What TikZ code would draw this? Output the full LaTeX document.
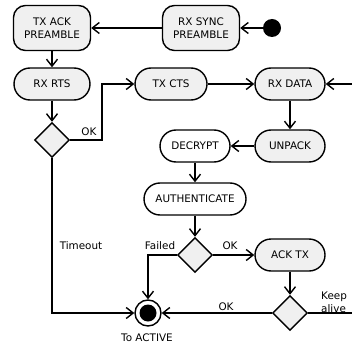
\documentclass[tikz,border=0pt]{standalone}
\usepackage{fontspec}
\setmainfont{DejaVu Sans}
\usetikzlibrary{shapes.geometric, arrows.meta, positioning}

\begin{document}
\begin{tikzpicture}[
    x=1pt, y=-1pt,
    font=\fontsize{10.4}{12.8}\selectfont,
    state/.style={rectangle, draw, fill=gray!12, line width=1.4pt, minimum width=70pt, minimum height=32pt, align=center, rounded corners=16pt},
    twoline/.style={state, minimum width=77pt, minimum height=45pt, rounded corners=12pt},
    plainstate/.style={state, fill=white},
    choice/.style={diamond, draw, fill=gray!12, line width=1.4pt, minimum width=35pt, minimum height=35pt, inner sep=0pt},
    arrow/.style={-{Straight Barb[length=7pt,width=11pt]}, line width=1.4pt}
]
\useasboundingbox (0,0) rectangle (352,347);
\clip (0,0) rectangle (352,347);
\node (txack) [twoline] at (52,28) {TX ACK\\PREAMBLE};
\node (rxsync) [twoline] at (201,28) {RX SYNC\\PREAMBLE};
\node (start) [circle, fill, minimum size=18pt, inner sep=0pt] at (272,28) {};
\node (rxrts) [state, minimum width=76pt] at (52,84) {RX RTS};
\node (txcts) [state, minimum width=72pt] at (171,84) {TX CTS};
\node (rxdata) [state] at (290,84) {RX DATA};
\node (rtsok) [choice] at (52,140) {};
\node (unpack) [state] at (290,146) {UNPACK};
\node (decrypt) [plainstate] at (195,146) {DECRYPT};
\node (auth) [plainstate, minimum width=102pt] at (195,199) {AUTHENTICATE};
\node (authok) [choice] at (195,255) {};
\node (acktx) [state] at (290,255) {ACK TX};
\node (keep) [choice] at (290,313) {};
\node (end) [circle, draw, line width=1.4pt, minimum size=26pt, inner sep=0pt] at (148,313) {};
\node (endin) [circle, fill, minimum size=17pt, inner sep=0pt] at (end) {};
\coordinate (ctsbend) at (102,84);
\coordinate (loop) at (370,313);
% labels
\node (rtsoklbl) at (89,132) {OK};
\node (timeout) at (81,246) {Timeout};
\node (failed) at (160,246) {Failed};
\node (authoklbl) at (230,246) {OK};
\node (keepoklbl) at (226,307) {OK};
\node (keeplbl) [anchor=west, align=left, inner sep=0pt] at (321,302) {Keep\\alive};
\node (toactive) at (147,338) {To ACTIVE};
% connectors
\draw [arrow] (start) -- (rxsync);
\draw [arrow] (rxsync) -- (txack);
\draw [arrow] (txack) -- (rxrts);
\draw [arrow] (rxrts) -- (rtsok);
\draw [arrow] (rtsok.east) -| (ctsbend) -- (txcts);
\draw [arrow] (txcts) -- (rxdata);
\draw [arrow] (rxdata) -- (unpack);
\draw [arrow] (unpack) -- (decrypt);
\draw [arrow] (decrypt) -- (auth);
\draw [arrow] (auth) -- (authok);
\draw [arrow] (authok) -- (acktx);
\draw [arrow] (acktx) -- (keep);
\draw [arrow] (keep) -- (end);
\draw [arrow] (authok.west) -| (end.north);
\draw [arrow] (rtsok.south) |- (end.west);
\draw [arrow] (keep.east) -- (loop) |- (rxdata.east);
\end{tikzpicture}
\end{document}
